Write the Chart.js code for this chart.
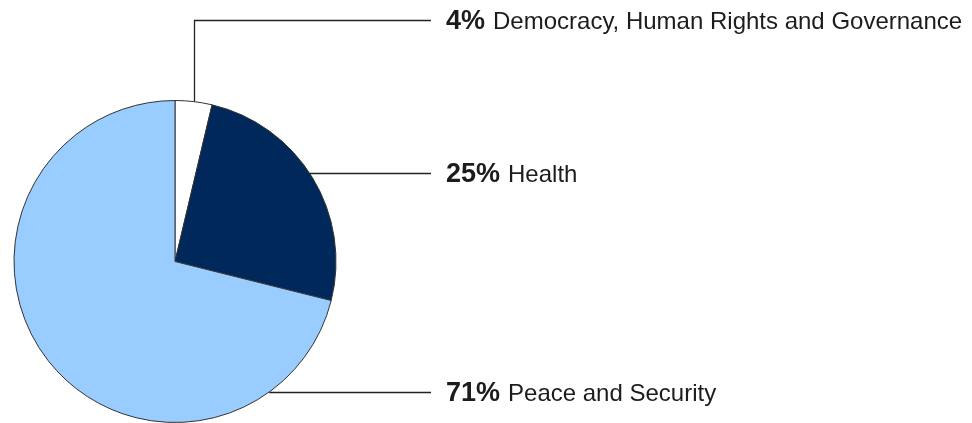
<!DOCTYPE html>
<html>
<head>
<meta charset="utf-8">
<script src="https://cdn.jsdelivr.net/npm/chart.js@4"></script>
<style>
	body { margin: 0; background: #fff; }
	#wrap { width: 972px; height: 423px; position: relative; }
</style>
</head>
<body>
<div id="wrap"><canvas id="fundingChart"></canvas></div>
<script>
const sectors = ["Democracy, Human Rights and Governance", "Health", "Peace and Security"];
const shares = [3.7, 25.2, 71.1];
const sliceColors = ["#ffffff", "#00285a", "#99ccff"];

// label rows (y of each leader line) and where the lines end
const labelRows = [20, 173, 392];
const lineEndX = 431;
const textX = 446;

const leaderLabels = {
	id: "leaderLabels",
	afterDraw(chart) {
		const ctx = chart.ctx;
		const arcs = chart.getDatasetMeta(0).data;
		const total = shares.reduce((a, b) => a + b, 0);
		ctx.save();
		ctx.strokeStyle = "#222";
		ctx.lineWidth = 1.3;
		arcs.forEach((arc, i) => {
			const { x: cx, y: cy, outerRadius: r, startAngle, endAngle } = arc.getProps(["x", "y", "outerRadius", "startAngle", "endAngle"], true);
			const y = labelRows[i];
			ctx.beginPath();
			if (i === 0) {
				// elbow line from the middle of the small slice
				const mid = (startAngle + endAngle) / 2;
				const ax = cx + r * Math.cos(mid);
				const ay = cy + r * Math.sin(mid);
				ctx.moveTo(Math.round(ax) + 0.5, ay);
				ctx.lineTo(Math.round(ax) + 0.5, y + 0.5);
				ctx.lineTo(lineEndX, y + 0.5);
			} else {
				const dy = y - cy;
				const ex = cx + Math.sqrt(Math.max(r * r - dy * dy, 0));
				ctx.moveTo(ex, y + 0.5);
				ctx.lineTo(lineEndX, y + 0.5);
			}
			ctx.stroke();

			const pct = Math.round(shares[i] / total * 100) + "%";
			ctx.fillStyle = "#1c1c1c";
			ctx.textBaseline = "middle";
			ctx.font = "bold 27px 'Liberation Sans', Arial, sans-serif";
			ctx.fillText(pct, textX, y + 1.5);
			const w = ctx.measureText(pct).width + 8;
			ctx.font = "24px 'Liberation Sans', Arial, sans-serif";
			ctx.fillText(sectors[i], textX + w, y + 2.5);
		});
		ctx.restore();
	}
};

const ctx = document.getElementById("fundingChart").getContext("2d");
new Chart(ctx, {
	type: "pie",
	data: {
		labels: sectors,
		datasets: [
			{
				data: shares,
				backgroundColor: sliceColors,
				borderColor: "#333",
				borderWidth: 1,
			},
		],
	},
	options: {
		responsive: true,
		maintainAspectRatio: false,
		animation: false,
		layout: {
			padding: { left: 13.5, top: 100, right: 635.5, bottom: 0 },
		},
		plugins: {
			legend: { display: false },
			tooltip: { enabled: false },
		},
	},
	plugins: [leaderLabels],
});
</script>
</body>
</html>
